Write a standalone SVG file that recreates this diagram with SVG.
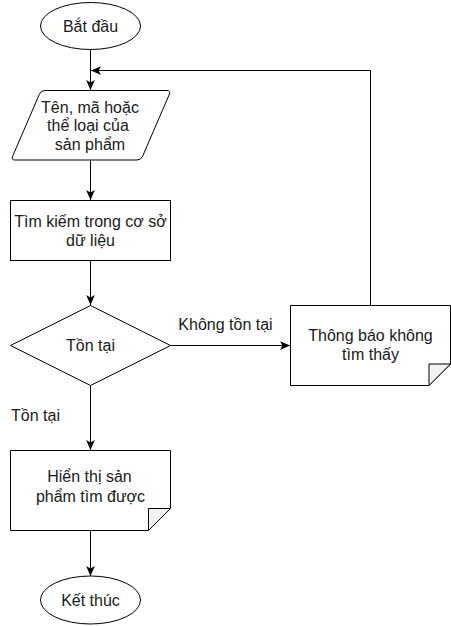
<svg xmlns="http://www.w3.org/2000/svg" width="451" height="626" viewBox="0 0 451 626">
<style>
.shape{fill:#ffffff;stroke:#000000;stroke-width:1}
.fold{fill:#f2f2f2;stroke:#000000;stroke-width:1;stroke-linejoin:miter}
.edge{fill:none;stroke:#000000;stroke-width:1}
text{font-family:"Liberation Sans",Arial,Helvetica,sans-serif;font-size:16px;fill:#1a1a1a;text-anchor:middle}
</style>
<defs>
<marker id="arrow" markerUnits="userSpaceOnUse" markerWidth="10" markerHeight="10" viewBox="0 0 8 7" refX="8" refY="3.5" orient="auto">
<path d="M0,0 L8,3.5 L0,7 L2,3.5 Z" fill="#000000"/>
</marker>
</defs>
<rect width="451" height="626" fill="#ffffff"/>
<g id="connectors">
<line class="edge" x1="90.5" y1="49.5" x2="90.5" y2="90" marker-end="url(#arrow)"/>
<polyline class="edge" points="370.5,305 370.5,70.5 91,70.5" marker-end="url(#arrow)"/>
<line class="edge" x1="90.5" y1="160" x2="90.5" y2="200" marker-end="url(#arrow)"/>
<line class="edge" x1="90.5" y1="260.5" x2="90.5" y2="305" marker-end="url(#arrow)"/>
<line class="edge" x1="170.5" y1="345.5" x2="290" y2="345.5" marker-end="url(#arrow)"/>
<text x="225.5" y="330">Không tồn tại</text>
<line class="edge" x1="90.5" y1="385.5" x2="90.5" y2="450" marker-end="url(#arrow)"/>
<text x="35.5" y="421">Tồn tại</text>
<line class="edge" x1="90.5" y1="530.5" x2="90.5" y2="576" marker-end="url(#arrow)"/>
</g>
<g id="start">
<ellipse class="shape" cx="90.5" cy="26" rx="50" ry="23.5"/>
<text x="90.5" y="31.5">Bắt đầu</text>
</g>
<g id="input">
<path class="shape" d="M45,90.5 L167,90.5 Q171,90.5 169.4,94.2 L142.6,156.3 Q141,160 137,160 L15,160 Q11,160 12.6,156.3 L39.4,94.2 Q41,90.5 45,90.5 Z"/>
<text x="90" y="112.5">Tên, mã hoặc</text>
<text x="88" y="131">thể loại của</text>
<text x="90" y="149.5">sản phẩm</text>
</g>
<g id="search">
<rect class="shape" x="10.5" y="200.5" width="160" height="60"/>
<text x="90.5" y="226.5">Tìm kiếm trong cơ sở</text>
<text x="90.5" y="245.5">dữ liệu</text>
</g>
<g id="decision">
<polygon class="shape" points="90.5,305.5 170.5,345.5 90.5,385.5 10.5,345.5"/>
<text x="90.5" y="351">Tồn tại</text>
</g>
<g id="notfound">
<path class="shape" d="M290.5,305.5 H450.5 V364 L429,385.5 H290.5 Z"/>
<path class="fold" d="M429,385.5 V364 H450.5 Z"/>
<text x="370.5" y="340.5">Thông báo không</text>
<text x="370.5" y="360">tìm thấy</text>
</g>
<g id="display">
<path class="shape" d="M10.5,450.5 H170.5 V508.5 L148.5,530.5 H10.5 Z"/>
<path class="fold" d="M148.5,530.5 V508.5 H170.5 Z"/>
<text x="89.5" y="482">Hiển thị sản</text>
<text x="90.5" y="501.5">phẩm tìm được</text>
</g>
<g id="end">
<ellipse class="shape" cx="90.5" cy="600" rx="50" ry="24"/>
<text x="90.5" y="605.5">Kết thúc</text>
</g>
</svg>
